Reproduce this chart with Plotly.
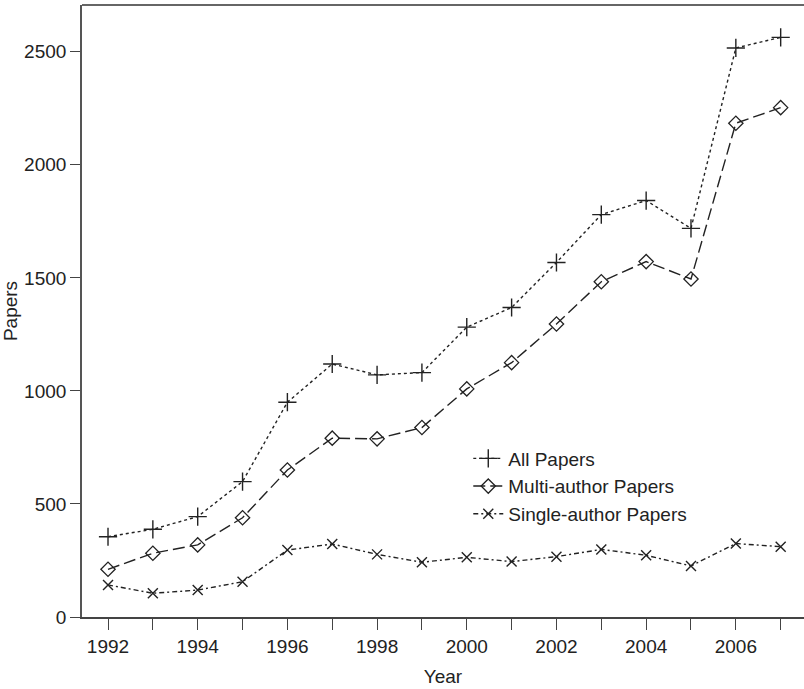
import plotly.graph_objects as go

# Papers published per year, split by authorship
years = list(range(1992, 2008))
all_papers = [355, 388, 444, 599, 950, 1119, 1071, 1081, 1282, 1369, 1568, 1780, 1842, 1719, 2517, 2564]
multi_author = [211, 282, 319, 439, 650, 791, 788, 838, 1009, 1125, 1296, 1483, 1572, 1495, 2184, 2253]
single_author = [142, 105, 119, 156, 296, 323, 277, 242, 264, 245, 267, 299, 273, 226, 325, 311]

y_ticks = [0, 500, 1000, 1500, 2000, 2500]
x_tick_labels = [str(y) if y % 2 == 0 else "" for y in years]

ink = "#222222"
font = dict(family="Liberation Sans, Arial, sans-serif", size=19, color=ink)

fig = go.Figure()
fig.add_trace(go.Scatter(
    x=years, y=all_papers, name="All Papers", mode="lines+markers",
    line=dict(color=ink, width=1.4, dash="dot"),
    marker=dict(symbol="cross-thin", size=13, color=ink, line=dict(width=1.4, color=ink)),
))
fig.add_trace(go.Scatter(
    x=years, y=multi_author, name="Multi-author Papers", mode="lines+markers",
    line=dict(color=ink, width=1.4, dash="12px,5px"),
    marker=dict(symbol="diamond-open", size=11, color=ink, line=dict(width=1.3, color=ink)),
))
fig.add_trace(go.Scatter(
    x=years, y=single_author, name="Single-author Papers", mode="lines+markers",
    line=dict(color=ink, width=1.4, dash="5px,3px,2px,3px"),
    marker=dict(symbol="x-thin", size=10, color=ink, line=dict(width=1.4, color=ink)),
))

# frame line along the top of the plotting area
fig.add_shape(type="line", xref="paper", yref="paper", x0=0, x1=1, y0=1, y1=1,
              line=dict(color="#333", width=1.6))

fig.update_layout(
    width=804, height=689,
    margin=dict(l=82, r=0, t=5, b=72),
    paper_bgcolor="white", plot_bgcolor="white",
    font=font,
    showlegend=True,
    legend=dict(
        x=0.535, y=0.29, xanchor="left", yanchor="top",
        bgcolor="rgba(0,0,0,0)", font=font, itemwidth=30,
        tracegroupgap=0,
    ),
    xaxis=dict(
        range=[1991.42, 2007.52], tickvals=years, ticktext=x_tick_labels,
        ticks="outside", ticklen=11, tickwidth=1.3, tickcolor="#444",
        showline=True, linecolor="#444", linewidth=1.6, mirror=False,
        showgrid=False, zeroline=False,
        title=dict(text="Year", font=font, standoff=14),
    ),
    yaxis=dict(
        range=[0, 2707], tickvals=y_ticks,
        ticks="outside", ticklen=10, tickwidth=1.3, tickcolor="#444",
        showline=True, linecolor="#555", linewidth=1.6, mirror=False,
        showgrid=False, zeroline=False,
        title=dict(text="Papers", font=font, standoff=4),
    ),
)

fig.write_html("out.html")
